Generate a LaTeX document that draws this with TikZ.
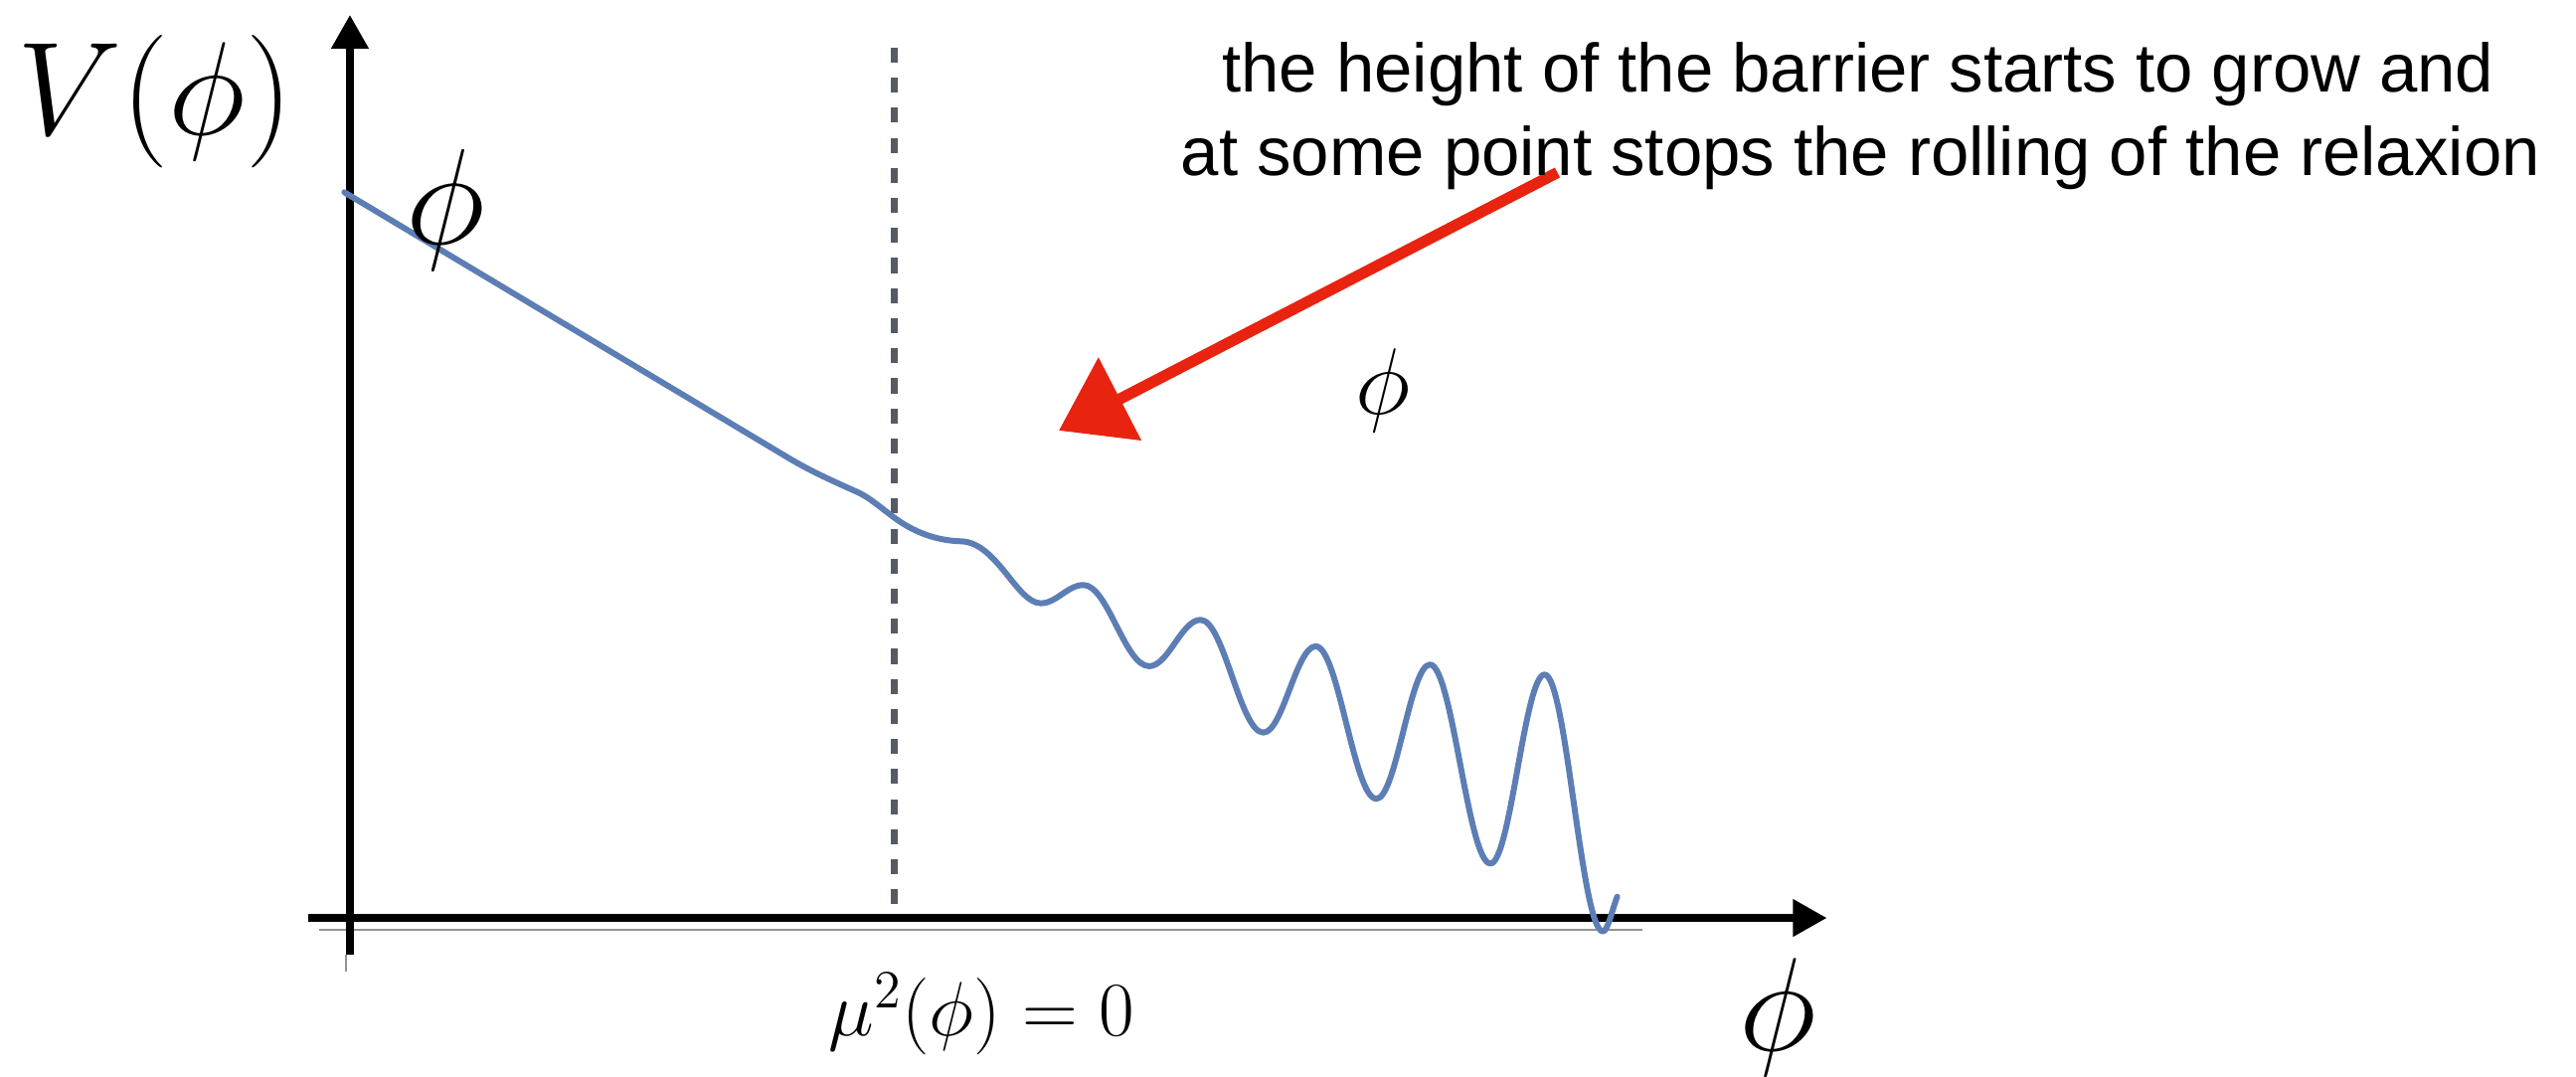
\RequirePackage{fix-cm}
\documentclass[tikz,border=0pt]{standalone}
\usepackage{fontspec}
\newfontfamily\hel{Liberation Sans}
\usetikzlibrary{arrows.meta}
\definecolor{curveblue}{RGB}{92,126,181}
\definecolor{dashgray}{RGB}{85,90,99}
\definecolor{arrowred}{RGB}{232,35,16}
\tikzset{
  axis/.style={black, line width=2.2pt, -{Triangle[length=9.7pt,width=10.2pt]}},
  thinline/.style={gray!85, line width=0.6pt},
  dashline/.style={dashgray, line width=1.8pt, dash pattern=on 4.3pt off 4.3pt},
  potential/.style={curveblue, line width=1.7pt, line join=round, line cap=round},
  redarrow/.style={arrowred, line width=3.2pt, -{Triangle[length=19.7pt,width=26pt]}},
  note/.style={inner sep=0pt, anchor=base, font=\hel\fontsize{19.6}{24}\selectfont},
  mlabel/.style={inner sep=0pt}
}
\begin{document}
\begin{tikzpicture}[x=0.016524cm, y=-0.016524cm]
\useasboundingbox (0,0) rectangle (1568,655);
% coordinates
\coordinate (yb) at (213,581);
\coordinate (yt) at (213,9);
\coordinate (xl) at (187.6,558.6);
\coordinate (xr) at (1112,558.6);
\coordinate (gl) at (194,566);
\coordinate (gr) at (1000,566);
\coordinate (gv1) at (210.4,581);
\coordinate (gv2) at (210.4,591);
\coordinate (dt) at (544.4,29);
\coordinate (db) at (544.4,557);
\coordinate (atail) at (948,105);
\coordinate (atip) at (644.5,262);
% thin gray lines
\draw[thinline] (gl) -- (gr);
\draw[thinline] (gv1) -- (gv2);
% dashed line
\draw[dashline] (dt) -- (db);
% axes
\draw[axis, line width=2.3pt] (yb) -- (yt);
\draw[axis] (xl) -- (xr);
% potential
\draw[potential] (209.6,117) -- (480,278.7)
  .. controls (494,287.07) and (508,293.2) .. (522,299.5)
  .. controls (529.67,302.95) and (537.33,309.98) .. (545,315.5)
  .. controls (558.33,325.1) and (571.67,329.0) .. (585,329.4)
  .. controls (606.8,330) and (618.95,367.1) .. (633.5,367.1)
  .. controls (643.12,367.1) and (649.88,356) .. (659.5,356)
  .. controls (674.3,356) and (684.7,405.4) .. (699.5,405.4)
  .. controls (711.08,405.4) and (719.22,377.2) .. (730.8,377.2)
  .. controls (744.93,377.2) and (754.87,445.8) .. (769,445.8)
  .. controls (780.8,445.8) and (789.1,393.3) .. (800.9,393.3)
  .. controls (814.55,393.3) and (824.15,486.1) .. (837.8,486.1)
  .. controls (849.86,486.1) and (858.34,404.4) .. (870.4,404.4)
  .. controls (884.02,404.4) and (893.58,525.5) .. (907.2,525.5)
  .. controls (919.41,525.5) and (927.99,410.5) .. (940.2,410.5)
  .. controls (953.34,410.5) and (962.56,566.8) .. (975.7,566.8)
  .. controls (978.6,566.8) and (981.5,552.85) .. (984.4,545.6);
% red arrow
\draw[redarrow] (atail) -- (atip);
% labels
\node[mlabel, font=\fontsize{38}{44}\selectfont] (V) at (94.4,61.5) {$V(\phi)$};
\node[mlabel, font=\fontsize{39}{46}\selectfont] (p1) at (271,128) {$\phi$};
\node[mlabel, font=\fontsize{27}{32}\selectfont] (p2) at (842,237.5) {$\phi$};
\node[mlabel, font=\fontsize{22}{26}\selectfont] (mu) at (597.5,617.3) {$\mu^2(\phi)=0$};
\node[mlabel, anchor=base, font=\fontsize{38}{44}\selectfont] (p3) at (1082,639.5) {$\phi$};
\node[note] (t1) at (1131,56) {the height of the barrier starts to grow and};
\node[note] (t2) at (1132.5,107) {at some point stops the rolling of the relaxion};
\end{tikzpicture}
\end{document}
